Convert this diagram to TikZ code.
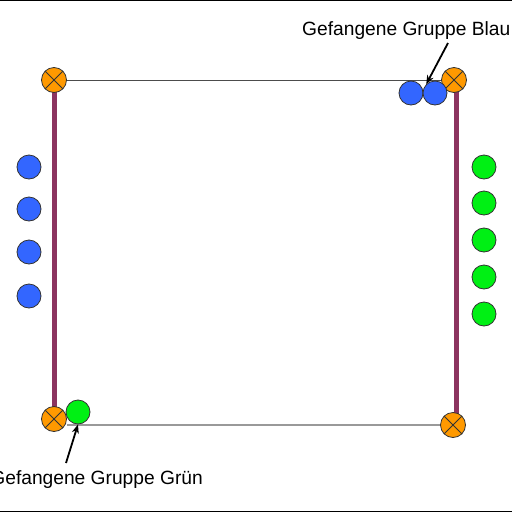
\documentclass[tikz,border=0pt]{standalone}
\usepackage{fontspec}
\setmainfont{Liberation Sans}
\usepackage{tikz}
\usetikzlibrary{arrows.meta, positioning, calc}

\definecolor{postorange}{RGB}{255,153,0}
\definecolor{barpurple}{RGB}{140,52,96}
\definecolor{teamblue}{RGB}{51,102,255}
\definecolor{teamgreen}{RGB}{0,240,20}

\begin{document}
\begin{tikzpicture}[
    x=1pt, y=-1pt,
    post/.style={circle, draw=black!80, fill=postorange, line width=0.8pt,
                 minimum size=25pt, inner sep=0pt},
    blueplayer/.style={circle, draw=black!80, fill=teamblue, line width=0.8pt,
                 minimum size=24pt, inner sep=0pt},
    greenplayer/.style={circle, draw=black!80, fill=teamgreen, line width=0.8pt,
                 minimum size=24pt, inner sep=0pt},
    bar/.style={line width=5pt, draw=barpurple},
    label/.style={font=\fontsize{19.2}{22}\selectfont, inner sep=0pt},
    arrow/.style={-{Stealth[length=9pt, width=7pt]}, line width=1.8pt}
]
\useasboundingbox (0,0) rectangle (512,512);

% Frame lines
\draw[line width=1.5pt] (0,0.5) -- (512,0.5);
\draw[line width=1.5pt] (0,511.5) -- (512,511.5);

% Goal bars
\coordinate (tlb) at (54,80);
\coordinate (blb) at (54,418);
\coordinate (trb) at (456,80);
\coordinate (brb) at (456,425);
\draw[bar] (tlb) -- (blb);
\draw[bar] (trb) -- (brb);

% Corner posts
\node[post] (tl) at (54,80) {};
\node[post] (tr) at (454,80) {};
\node[post] (bl) at (54,419) {};
\node[post] (br) at (453,425) {};

% Side lines
\draw[black!70, line width=0.8pt] (tl) -- (tr);
\draw[black!40, line width=2pt] (bl.east |- br) -- (br);

% Crosses in posts
\foreach \p in {tl, tr, bl, br} {
    \draw[black!80, line width=0.8pt] (\p.45) -- (\p.225);
    \draw[black!80, line width=0.8pt] (\p.135) -- (\p.315);
}

% Blue team
\foreach \i/\y in {1/167, 2/209, 3/252, 4/296}
    \node[blueplayer] (b\i) at (29,\y) {};
\node[blueplayer] (bc1) at (411,93) {};
\node[blueplayer] (bc2) at (435,93) {};

% Green team
\foreach \i/\y in {1/167, 2/203, 3/240, 4/277, 5/314}
    \node[greenplayer] (g\i) at (484,\y) {};
\node[greenplayer] (gc1) at (78,412) {};

% Labels
\node[label, anchor=base west] (lblau) at (302,35) {Gefangene Gruppe Blau};
\node[label, anchor=base east] (lgruen) at (203,484) {Gefangene Gruppe Grün};
\coordinate (ablau) at (448,43);
\coordinate (agruen) at (66,463);
\draw[arrow] (ablau) -- (bc2.north west);
\draw[arrow] (agruen) -- (gc1.south);

\end{tikzpicture}
\end{document}
